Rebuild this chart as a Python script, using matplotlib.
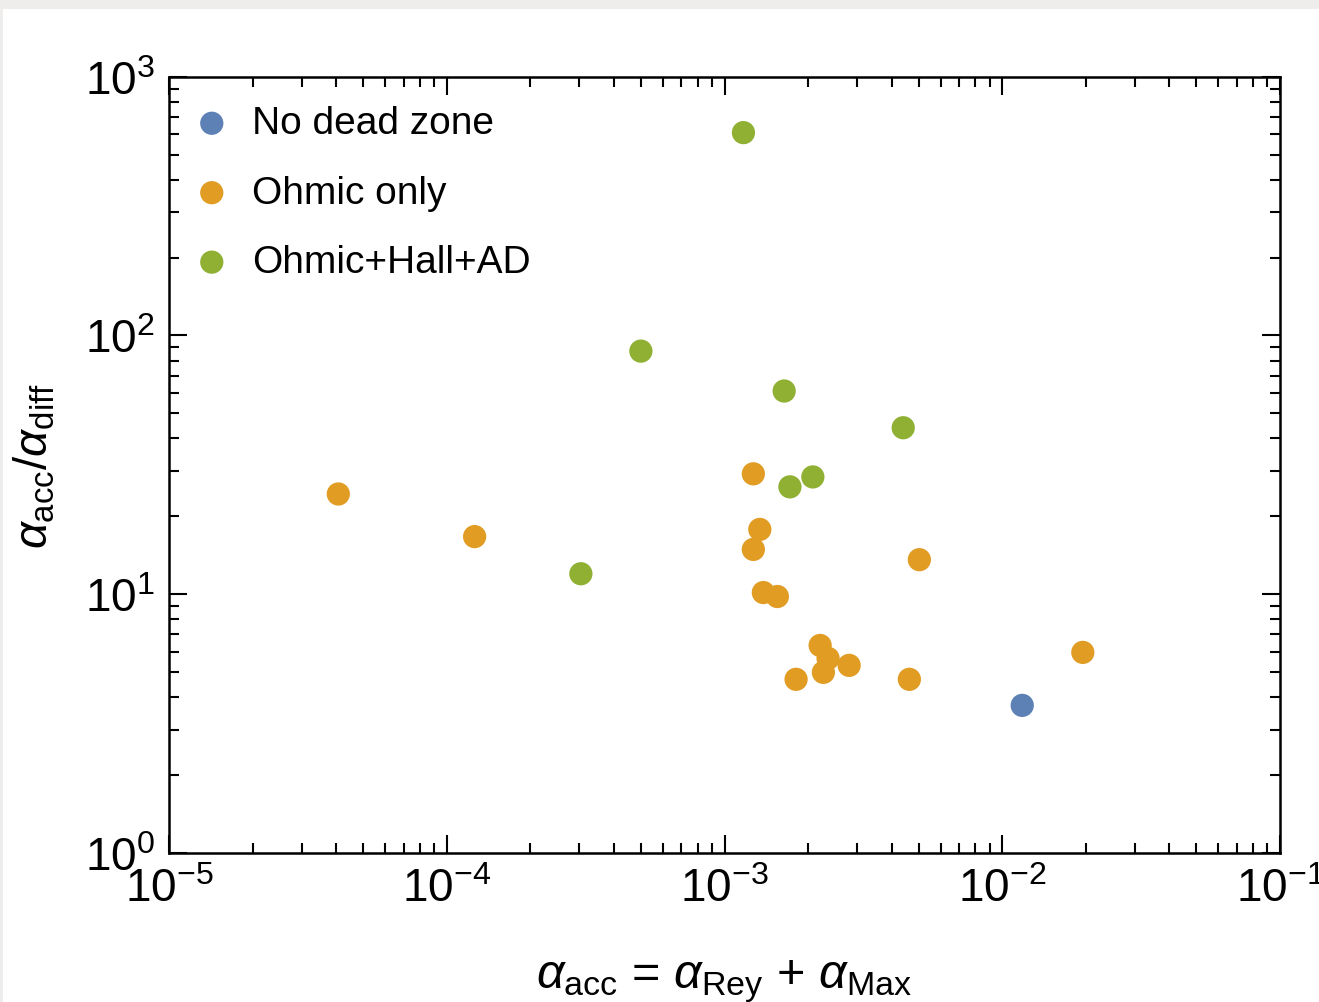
import numpy as np
import matplotlib
matplotlib.use("Agg")
import matplotlib.pyplot as plt
from matplotlib.patches import Rectangle
from matplotlib.ticker import LogLocator, NullFormatter

plt.rcParams['font.family'] = ['Liberation Sans', 'DejaVu Sans']
plt.rcParams['mathtext.fontset'] = 'custom'
plt.rcParams['mathtext.rm'] = 'Liberation Sans'
plt.rcParams['mathtext.it'] = 'Liberation Sans:italic'
plt.rcParams['mathtext.bf'] = 'Liberation Sans:bold'

# data
labels = ["No dead zone", "Ohmic only", "Ohmic+Hall+AD"]
colors = ["#5e81b5", "#e19c24", "#8fb032"]

nodz_x = [1.18e-2]
nodz_y = [3.72]

ohmic_x = [4.07e-5, 1.26e-4, 1.27e-3, 1.34e-3, 1.27e-3, 1.38e-3, 1.55e-3, 5.03e-3,
           2.21e-3, 2.36e-3, 2.27e-3, 2.81e-3, 1.81e-3, 4.63e-3, 1.95e-2]
ohmic_y = [24.4, 16.7, 29.2, 17.8, 14.9, 10.15, 9.8, 13.6,
           6.34, 5.65, 4.99, 5.31, 4.69, 4.69, 5.96]

hall_x = [1.17e-3, 5.0e-4, 3.04e-4, 1.64e-3, 1.72e-3, 2.08e-3, 4.40e-3]
hall_y = [608, 87, 12.0, 61, 26.0, 28.4, 44.0]

fig = plt.figure(figsize=(13.19, 10.03), dpi=100)
fig.patch.set_facecolor("#efedeb")
fig.patches.append(Rectangle((3/1319, 0), 1, (1003-10)/1003, transform=fig.transFigure,
                             facecolor="white", edgecolor="none", zorder=-10))

ax = fig.add_axes([169/1319, (1003-854)/1003, (1280-169)/1319, (854-77.7)/1003])
ax.set_facecolor("white")

ax.scatter(nodz_x, nodz_y, s=280, color=colors[0], edgecolors="none", label=labels[0], zorder=3)
ax.scatter(ohmic_x, ohmic_y, s=280, color=colors[1], edgecolors="none", label=labels[1], zorder=3)
ax.scatter(hall_x, hall_y, s=280, color=colors[2], edgecolors="none", label=labels[2], zorder=3)

ax.set_xscale("log")
ax.set_yscale("log")
ax.set_xlim(1e-5, 1e-1)
ax.set_ylim(1e0, 1e3)

for a in (ax.xaxis, ax.yaxis):
    a.set_major_locator(LogLocator(base=10, numticks=10))
    a.set_minor_locator(LogLocator(base=10, subs=np.arange(2, 10), numticks=20))
    a.set_minor_formatter(NullFormatter())

ax.tick_params(which="both", direction="in", top=True, right=True, width=1.5, colors="black")
ax.tick_params(which="major", length=13, pad=10, labelsize=33)
ax.tick_params(which="minor", length=7)
for sp in ax.spines.values():
    sp.set_linewidth(1.8)

ax.set_xlabel(r"$\alpha_{\rm acc}$ = $\alpha_{\rm Rey}$ + $\alpha_{\rm Max}$", fontsize=35)
ax.xaxis.set_label_coords(0.5, -0.134)
ax.set_ylabel(r"$\alpha_{\rm acc}/\alpha_{\rm diff}$", fontsize=34)
ax.yaxis.set_label_coords(-0.1, 0.5)

ax.legend(loc="upper left", bbox_to_anchor=(0, 0.993), frameon=False, fontsize=28,
          markerscale=1.0, handletextpad=0.53, labelspacing=0.86, borderaxespad=0.2,
          handlelength=1.0)

fig.savefig("out.png", dpi=100, facecolor=fig.get_facecolor())
